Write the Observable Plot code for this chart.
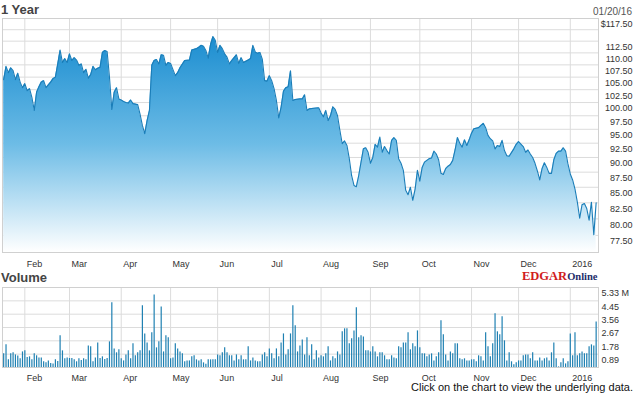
<!DOCTYPE html>
<html><head><meta charset="utf-8">
<script src="https://cdn.jsdelivr.net/npm/d3@7"></script>
<script src="https://cdn.jsdelivr.net/npm/@observablehq/plot@0.6"></script>
<style>
html,body{margin:0;padding:0;background:#fff;}
#wrap{position:relative;width:635px;height:395px;overflow:hidden;}
#wrap svg{position:absolute;left:0;}
</style></head><body><div id="wrap"></div>
<script>
// trading-day index (0 = 01/20/15 ... 252 = 01/20/16) and closing price
const priceDay = [0,1,2,3,4,5,6,7,8,9,10,11,12,13,14,15,16,17,18,20,21,22,23,24,25,26,27,28,29,30,31,32,33,34,35,36,37,38,39,40,41,42,43,44,45,46,47,48,49,50,51,52,53,54,55,56,57,58,59,60,61,62,63,64,65,66,67,68,69,70,71,73,74,75,77,79,80,82,83,84,85,86,87,88,89,90,91,92,93,94,95,96,97,99,100,101,102,104,105,106,107,108,109,110,111,112,113,114,115,116,117,118,119,120,121,122,123,124,126,127,128,129,130,132,134,135,136,137,138,139,140,141,142,143,144,145,146,147,148,149,150,151,152,153,154,155,156,157,158,159,160,161,162,163,164,165,166,167,168,169,170,171,172,173,174,175,176,177,178,179,181,182,183,184,185,186,187,188,189,190,191,192,193,194,195,196,197,198,199,200,202,203,204,205,206,207,208,209,210,211,212,213,214,215,217,218,219,221,222,223,224,225,226,227,228,229,230,231,232,233,234,235,236,237,238,239,240,241,242,243,244,245,246,247,248,249,250,251,252];
const priceClose = [104.5,107.2,105.9,106.9,106.3,104.5,105.8,104.0,102.9,103.7,102.3,102.7,101.0,98.5,102.0,103.1,104.0,104.3,102.9,104.0,104.7,105.0,107.7,110.6,108.0,108.8,108.0,109.8,108.4,109.0,108.5,107.4,107.7,105.9,106.6,104.8,105.5,107.2,106.5,106.8,107.0,110.1,110.5,110.3,105.0,98.7,102.0,102.9,100.7,100.5,100.2,100.0,99.9,100.5,99.8,99.7,99.6,97.8,95.7,94.2,96.6,98.5,107.4,108.4,108.6,107.7,109.6,109.5,107.4,108.0,107.8,105.3,105.9,106.9,108.4,108.5,110.6,110.9,111.2,111.6,111.4,110.5,108.9,111.8,113.5,112.7,110.1,111.6,110.9,109.8,109.1,107.7,108.4,109.6,107.8,109.0,108.0,108.5,108.8,111.6,110.2,109.9,110.1,108.7,104.3,104.2,105.3,104.3,102.7,100.4,97.1,99.1,102.2,102.9,103.1,106.3,100.4,100.6,100.7,100.7,101.5,98.5,98.8,98.9,99.0,98.0,97.3,98.5,96.6,97.5,99.2,98.7,97.5,94.8,92.4,92.9,92.1,89.8,86.9,85.3,85.1,86.9,89.2,91.5,91.7,90.9,89.0,90.0,92.3,91.8,93.6,90.9,91.9,91.2,90.6,93.0,93.5,93.0,89.8,89.0,87.8,84.5,83.8,85.0,82.9,84.7,87.8,86.0,88.3,89.2,89.8,89.9,91.1,90.6,89.6,87.3,87.1,88.1,88.5,88.8,89.5,91.3,93.5,92.5,91.8,93.1,92.1,93.1,94.3,95.1,95.3,95.7,96.1,95.3,93.9,93.3,92.9,91.5,92.1,91.9,93.0,91.2,90.3,90.2,91.5,92.3,92.8,91.9,90.9,91.3,90.6,90.0,89.0,87.7,86.2,88.1,89.1,88.3,87.3,87.3,89.6,90.7,91.1,91.1,91.7,91.1,88.9,87.2,86.2,84.7,82.6,80.1,82.2,82.4,81.6,79.8,82.6,77.6,82.5];
// daily volume (millions), one per trading day 0..252
const volume = [0.91,1.51,0.51,0.91,0.98,0.84,0.76,0.58,1.04,1.11,
0.67,0.71,0.51,0.91,0.78,0.64,0.64,0.38,0.31,0.44,
0.27,0.24,0.51,0.40,2.11,1.11,0.58,0.64,0.60,0.60,
0.51,0.38,0.58,0.47,0.58,0.51,1.44,1.38,0.38,0.64,
1.64,0.60,0.71,0.53,0.60,1.71,4.31,1.24,0.98,1.18,
0.58,0.44,0.84,1.11,0.58,1.58,0.78,0.98,1.11,4.11,
2.24,1.64,1.11,2.31,4.84,1.31,1.71,4.04,1.04,2.11,
1.98,0.58,0.64,1.58,1.24,1.04,0.91,0.38,0.44,0.44,
0.71,0.78,0.51,0.44,0.51,0.31,0.22,0.51,0.51,0.51,
0.51,0.84,0.78,0.98,1.31,0.98,0.78,0.78,0.44,0.84,
0.51,0.78,0.51,0.51,1.38,0.44,0.64,0.44,0.38,0.38,
0.84,0.98,0.71,1.24,0.91,0.58,1.24,0.71,1.64,2.24,
0.84,1.18,2.24,4.11,2.78,1.04,1.44,1.84,0.84,1.98,
0.78,1.51,0.51,1.11,0.64,0.78,0.71,0.91,1.38,0.44,
0.71,0.58,1.04,0.84,2.38,2.58,2.58,1.58,1.91,2.44,
3.98,1.98,2.11,2.04,1.11,1.11,1.04,1.38,1.04,0.71,
0.98,0.98,0.78,0.51,0.51,0.78,0.64,0.58,1.38,1.31,
1.64,1.64,2.31,1.18,1.58,1.38,2.44,1.31,0.91,0.91,
0.71,0.84,0.91,0.44,0.71,0.98,3.11,2.18,0.84,0.44,
1.04,0.91,1.58,1.58,0.58,0.51,0.58,0.44,0.44,0.51,
0.51,0.38,0.78,0.71,0.44,2.31,1.38,0.71,1.58,3.58,
2.38,2.18,3.38,1.78,0.44,0.98,0.38,0.18,0.31,0.44,
0.44,0.78,0.84,0.84,0.58,0.98,0.44,0.44,0.64,0.44,
0.58,0.64,0.44,0.98,1.64,0.58,0.04,0.31,0.58,0.24,
0.38,2.24,0.78,2.31,0.78,0.91,1.04,0.91,0.91,1.38,
1.51,1.44,3.04];
// month starts (trading-day index) and labels
const monthDay = [9,28,50,71,91,113,135,156,177,199,219,241];
const monthLabel = ["Feb","Mar","Apr","May","Jun","Jul","Aug","Sep","Oct","Nov","Dec","2016"];
const priceGrid = [77.5,80,82.5,85,87.5,90,92.5,95,97.5,100,102.5,105,107.5,110,112.5,115];
const priceTicks = [117.5,112.5,110,107.5,105,102.5,100,97.5,95,92.5,90,87.5,85,82.5,80,77.5];
const priceTickLabel = ["$117.50","112.50","110.00","107.50","105.00","102.50","100.00","97.50","95.00","92.50","90.00","87.50","85.00","82.50","80.00","77.50"];
const volTicks = [0.889,1.778,2.667,3.556,4.445,5.335];
const volTickLabel = ["0.89","1.78","2.67","3.56","4.45","5.33 M"];

const priceData = priceDay.map((d, i) => ({day: d, close: priceClose[i]}));
const volData = volume.map((v, i) => ({day: i, vol: v}));

const FONT = '"Liberation Sans", Arial, Helvetica, sans-serif';
const style = {fontFamily: FONT, fontSize: "9px", background: "transparent", overflow: "visible"};
const GRID = "#dcdcdc";
const LABEL = "#333";

const gradient = () => {
  const defs = d3.create("svg:defs");
  const lg = defs.append("linearGradient").attr("id", "priceFill")
    .attr("x1", 0).attr("y1", 0).attr("x2", 0).attr("y2", 1);
  lg.append("stop").attr("offset", "0%").attr("stop-color", "#1b8dd0");
  lg.append("stop").attr("offset", "50%").attr("stop-color", "#6dbce6");
  lg.append("stop").attr("offset", "100%").attr("stop-color", "#ffffff");
  return defs.node();
};

const price = Plot.plot({
  width: 635, height: 270,
  marginLeft: 2, marginRight: 37, marginTop: 18, marginBottom: 18,
  style,
  x: {domain: [-0.5, 253], axis: null},
  y: {type: "log", domain: [75, 117.5], axis: null},
  marks: [
    gradient,
    Plot.ruleY(priceGrid, {stroke: GRID}),
    Plot.ruleX(monthDay, {stroke: GRID}),
    Plot.areaY(priceData, {x: "day", y1: 75, y2: "close", fill: "url(#priceFill)"}),
    Plot.lineY(priceData, {x: "day", y: "close", stroke: "#1a7db8", strokeWidth: 1.1}),
    Plot.frame({stroke: "#d0d0d0"}),
    Plot.text(monthDay, {x: Plot.identity, text: monthLabel, frameAnchor: "bottom", lineAnchor: "top", textAnchor: "start", dx: 2, dy: 8, fill: LABEL}),
    Plot.text(priceTicks, {y: Plot.identity, text: priceTickLabel, frameAnchor: "right", textAnchor: "end", dx: 34, dy: 6, fill: LABEL})
  ]
});
price.style.top = "0px";

const vol = Plot.plot({
  width: 635, height: 114,
  marginLeft: 2, marginRight: 37, marginTop: 17, marginBottom: 17,
  style,
  x: {domain: [-0.5, 253], axis: null},
  y: {domain: [0, 5.335], axis: null},
  marks: [
    Plot.ruleY(volTicks, {stroke: GRID}),
    Plot.ruleX(monthDay, {stroke: GRID}),
    Plot.ruleX(volData, {x: "day", y1: 0, y2: "vol", stroke: "#1f80b2", strokeWidth: 1.2}),
    Plot.frame({stroke: "#d0d0d0"}),
    Plot.text(monthDay, {x: Plot.identity, text: monthLabel, frameAnchor: "bottom", lineAnchor: "top", textAnchor: "start", dx: 2, dy: 7, fill: LABEL}),
    Plot.text(volTicks, {y: Plot.identity, text: volTickLabel, frameAnchor: "right", textAnchor: "start", dx: 3, dy: 6, fill: LABEL})
  ]
});
vol.style.top = "270px";

const wrap = document.getElementById("wrap");
wrap.appendChild(price);
wrap.appendChild(vol);

// overlay texts
const ov = d3.create("svg").attr("width", 635).attr("height", 395)
  .style("top", "0px").style("pointer-events", "none").style("font-family", FONT);
ov.append("text").attr("x", 1).attr("y", 14).attr("font-size", 13).attr("font-weight", "bold").attr("fill", "#444").text("1 Year");
ov.append("text").attr("x", 632).attr("y", 15).attr("font-size", 10).attr("text-anchor", "end").attr("fill", "#555").text("01/20/16");
ov.append("text").attr("x", 1).attr("y", 282).attr("font-size", 13).attr("font-weight", "bold").attr("fill", "#444").text("Volume");
const logo = ov.append("text").attr("x", 522).attr("y", 279.5).attr("font-family", '"Liberation Serif", "Times New Roman", serif').attr("font-weight", "bold");
logo.append("tspan").attr("font-size", 12.5).attr("fill", "#d01c1c").text("EDGAR");
logo.append("tspan").attr("font-size", 10.5).attr("fill", "#1d2d6b").text("Online");
ov.append("text").attr("x", 633).attr("y", 391).attr("font-size", 11).attr("text-anchor", "end").attr("fill", "#111").text("Click on the chart to view the underlying data.");
wrap.appendChild(ov.node());
</script></body></html>
